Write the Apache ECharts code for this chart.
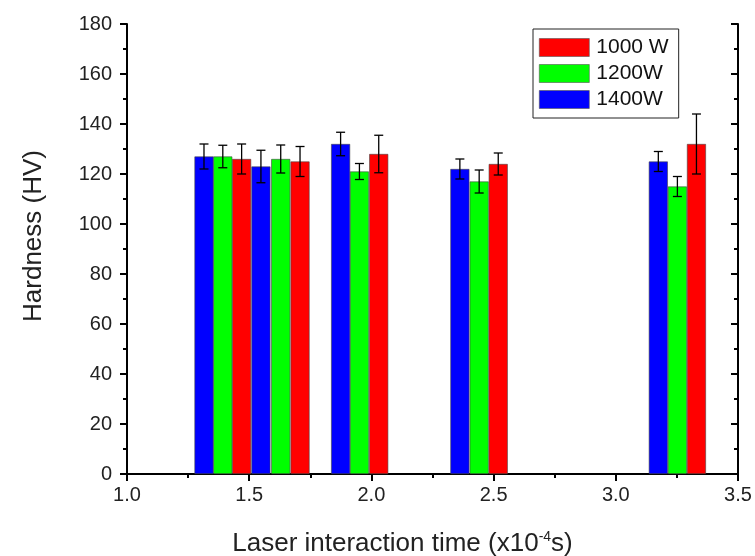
<!DOCTYPE html>
<html>
<head>
<meta charset="utf-8">
<script src="https://cdn.jsdelivr.net/npm/echarts@6/dist/echarts.min.js"></script>
<style>
  html, body { margin: 0; padding: 0; background: #fff; }
  #chart { width: 755px; height: 556px; }
</style>
</head>
<body>
<div id="chart"></div>
<script>
// bar positions (x10^-4 s), hardness (HV) and error (+/-) for each laser power
const x1000 = [1.469, 1.708, 2.030, 2.519, 3.330]
const hv1000 = [126, 125, 128, 124, 132]
const err1000 = [6, 6, 7.5, 4.4, 12]

const x1200 = [1.392, 1.629, 1.951, 2.441, 3.252]
const hv1200 = [127, 126, 121, 117, 115]
const err1200 = [4.5, 5.6, 3.2, 4.6, 4]

const x1400 = [1.315, 1.548, 1.874, 2.362, 3.174]
const hv1400 = [127, 123, 132, 122, 125]
const err1400 = [5, 6.5, 4.7, 4, 4]

const xTicks = { min: 1.0, max: 3.5, step: 0.5 }
const yTicks = { min: 0, max: 180, step: 20 }

const powers = [
  { name: '1000 W', color: '#ff0000', x: x1000, y: hv1000, e: err1000 },
  { name: '1200W', color: '#00ff00', x: x1200, y: hv1200, e: err1200 },
  { name: '1400W', color: '#0000ff', x: x1400, y: hv1400, e: err1400 }
]

const FONT = 'Liberation Sans, Arial, sans-serif'
const BAR_W = 19

const axisLine = { show: true, lineStyle: { color: '#000', width: 2 } }

const series = []
powers.forEach((p) => {
  series.push({
    name: p.name,
    type: 'bar',
    barWidth: BAR_W,
    barGap: '-100%',
    itemStyle: { color: p.color, borderColor: '#444', borderWidth: 0.6 },
    data: p.x.map((x, i) => [x, p.y[i]])
  })
})
// error bars drawn on top of all bars
powers.forEach((p) => {
  series.push({
    type: 'custom',
    silent: true,
    z: 10,
    renderItem(params, api) {
      const x = api.value(0)
      const hi = api.coord([x, api.value(1) + api.value(2)])
      const lo = api.coord([x, api.value(1) - api.value(2)])
      const cap = 4.5
      const style = { stroke: '#000', lineWidth: 1.3 }
      return {
        type: 'group',
        children: [
          { type: 'line', shape: { x1: hi[0], y1: hi[1], x2: lo[0], y2: lo[1] }, style },
          { type: 'line', shape: { x1: hi[0] - cap, y1: hi[1], x2: hi[0] + cap, y2: hi[1] }, style },
          { type: 'line', shape: { x1: lo[0] - cap, y1: lo[1], x2: lo[0] + cap, y2: lo[1] }, style }
        ]
      }
    },
    data: p.x.map((x, i) => [x, p.y[i], p.e[i]])
  })
})

const chart = echarts.init(document.getElementById('chart'))
chart.setOption({
  animation: false,
  textStyle: { fontFamily: FONT },
  grid: { left: 127, right: 17, top: 24, bottom: 82, outerBoundsMode: 'none' },
  legend: {
    data: powers.map((p) => ({ name: p.name, icon: 'rect' })),
    orient: 'vertical',
    left: 533,
    top: 29,
    itemWidth: 50,
    itemHeight: 18,
    itemGap: 5,
    padding: [8, 10, 8, 6],
    borderColor: '#222',
    borderWidth: 1,
    backgroundColor: '#fff',
    textStyle: { fontSize: 21, color: '#111', fontFamily: FONT, padding: [0, 0, 0, 2] },
    itemStyle: { borderColor: '#555', borderWidth: 0.6 }
  },
  xAxis: [
    {
      type: 'value',
      min: xTicks.min,
      max: xTicks.max,
      interval: xTicks.step,
      axisLine,
      axisTick: { show: true, inside: false, length: 7, lineStyle: { color: '#000', width: 2 } },
      minorTick: { show: true, splitNumber: 2, length: 4, lineStyle: { color: '#000', width: 2 } },
      splitLine: { show: false },
      axisLabel: {
        fontSize: 20,
        color: '#222',
        margin: 11,
        formatter: (v) => v.toFixed(1)
      },
      name: 'Laser interaction time (x10{sup|-4}s)',
      nameLocation: 'middle',
      nameGap: 56,
      nameTextStyle: {
        fontSize: 26,
        color: '#222',
        padding: [0, 60, 0, 0],
        rich: { sup: { fontSize: 14, verticalAlign: 'top', padding: [0, 0, 13, 0], color: '#222' } }
      }
    },
    {
      type: 'value',
      position: 'top',
      min: xTicks.min,
      max: xTicks.max,
      interval: xTicks.step,
      axisLine,
      axisTick: { show: true, inside: true, length: 7, lineStyle: { color: '#000', width: 2 } },
      minorTick: { show: true, splitNumber: 2, length: 4, lineStyle: { color: '#000', width: 2 } },
      splitLine: { show: false },
      axisLabel: { show: false }
    }
  ],
  yAxis: [
    {
      type: 'value',
      min: yTicks.min,
      max: yTicks.max,
      interval: yTicks.step,
      axisLine,
      axisTick: { show: true, inside: false, length: 7, lineStyle: { color: '#000', width: 2 } },
      minorTick: { show: true, splitNumber: 2, length: 4, lineStyle: { color: '#000', width: 2 } },
      splitLine: { show: false },
      axisLabel: { fontSize: 20, color: '#222', margin: 15 },
      name: 'Hardness (HV)',
      nameLocation: 'middle',
      nameGap: 80,
      nameTextStyle: { fontSize: 26, color: '#222', padding: [0, 0, 0, 26] }
    },
    {
      type: 'value',
      position: 'right',
      min: yTicks.min,
      max: yTicks.max,
      interval: yTicks.step,
      axisLine,
      axisTick: { show: true, inside: true, length: 7, lineStyle: { color: '#000', width: 2 } },
      minorTick: { show: true, splitNumber: 2, length: 4, lineStyle: { color: '#000', width: 2 } },
      splitLine: { show: false },
      axisLabel: { show: false }
    }
  ],
  series
})
</script>
</body>
</html>
